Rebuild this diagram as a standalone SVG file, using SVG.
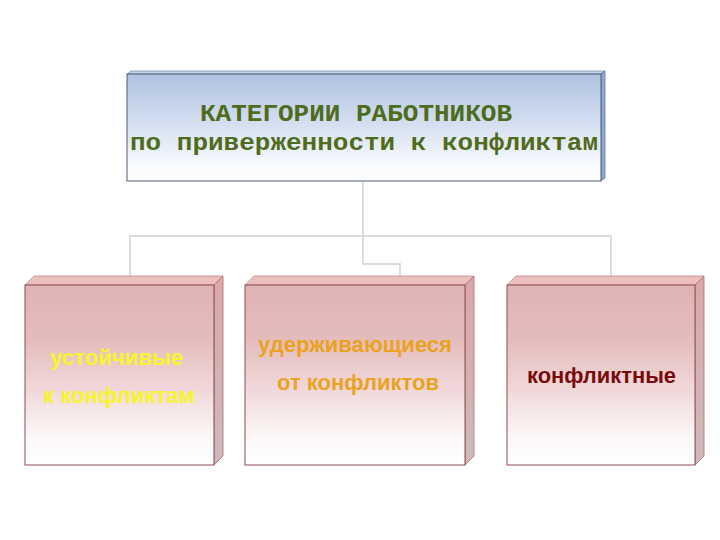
<svg xmlns="http://www.w3.org/2000/svg" width="720" height="540" viewBox="0 0 720 540">
<defs>
<linearGradient id="gBlue" x1="0" y1="0" x2="0" y2="1">
<stop offset="0" stop-color="#aec2df"/>
<stop offset="0.45" stop-color="#d3def0"/>
<stop offset="0.85" stop-color="#f8fafd"/>
<stop offset="1" stop-color="#ffffff"/>
</linearGradient>
<linearGradient id="gPink" x1="0" y1="0" x2="0" y2="1">
<stop offset="0" stop-color="#e0b3b3"/>
<stop offset="0.3" stop-color="#e4bcbc"/>
<stop offset="0.6" stop-color="#f1dadc"/>
<stop offset="0.85" stop-color="#fcf8f8"/>
<stop offset="1" stop-color="#ffffff"/>
</linearGradient>
<linearGradient id="gSide" x1="0" y1="0" x2="0" y2="1">
<stop offset="0" stop-color="#dba8a8"/>
<stop offset="1" stop-color="#cbbcbc"/>
</linearGradient>
</defs>
<style>
.conn{fill:none;stroke:#dcdcdc;stroke-width:2}
.front{fill:url(#gPink);stroke:#8f4a52;stroke-width:1}
.top{fill:#ecbebe;stroke:#c78a8f;stroke-width:0.8}
.side{fill:url(#gSide);stroke:#b06a72;stroke-width:0.8}
.t{font-family:"Liberation Sans",Arial,sans-serif;font-size:22px;font-weight:bold}
.head{font-family:"Liberation Mono","Courier New",monospace;font-size:24px;font-weight:bold;fill:#4f6b1c}
</style>
<rect width="720" height="540" fill="#ffffff"/>
<g id="connectors">
<path class="conn" d="M363 182 V264 H400 V285"/>
<path class="conn" d="M130 285 V236 H611 V285"/>
</g>
<g id="header">
<polygon points="127,74 131,71 605,71 601,74" fill="#c4d3e8" stroke="#7d95b5" stroke-width="0.8"/>
<polygon points="601,74 605,71 605,178 601,181" fill="#8fa9cf" stroke="#5f7aa0" stroke-width="0.8"/>
<rect x="127" y="74" width="474" height="107" fill="url(#gBlue)" stroke="#4d5f73" stroke-width="1"/>
<text class="head" x="200" y="121" textLength="312" lengthAdjust="spacingAndGlyphs">КАТЕГОРИИ РАБОТНИКОВ</text>
<text class="head" x="130" y="150" textLength="468" lengthAdjust="spacingAndGlyphs">по приверженности к конфликтам</text>
</g>
<g id="box1">
<polygon class="top" points="25,285 34,276 223,276 214,285"/>
<polygon class="side" points="214,285 223,276 223,456 214,465"/>
<rect class="front" x="25" y="285" width="189" height="180"/>
<text class="t" x="50" y="365" fill="#f7f52a" textLength="133" lengthAdjust="spacingAndGlyphs">устойчивые</text>
<text class="t" x="43" y="403" fill="#f7f52a" textLength="152" lengthAdjust="spacingAndGlyphs">к конфликтам</text>
</g>
<g id="box2">
<polygon class="top" points="245,285 254,276 474,276 465,285"/>
<polygon class="side" points="465,285 474,276 474,456 465,465"/>
<rect class="front" x="245" y="285" width="220" height="180"/>
<text class="t" x="258" y="352" fill="#eba21e" textLength="194" lengthAdjust="spacingAndGlyphs">удерживающиеся</text>
<text class="t" x="277" y="390" fill="#eba21e" textLength="162" lengthAdjust="spacingAndGlyphs">от конфликтов</text>
</g>
<g id="box3">
<polygon class="top" points="507,285 516,276 704,276 695,285"/>
<polygon class="side" points="695,285 704,276 704,456 695,465"/>
<rect class="front" x="507" y="285" width="188" height="180"/>
<text class="t" x="527" y="383" fill="#7a0a0a" textLength="149" lengthAdjust="spacingAndGlyphs">конфликтные</text>
</g>
</svg>
